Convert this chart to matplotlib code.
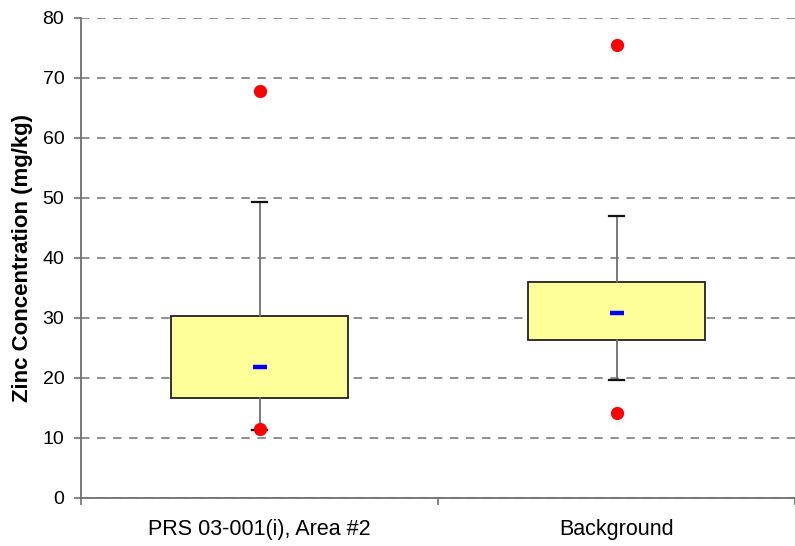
import matplotlib
matplotlib.use("Agg")
import matplotlib.pyplot as plt

plt.rcParams['font.family'] = ['Liberation Sans', 'DejaVu Sans']

categories = ["PRS 03-001(i), Area #2", "Background"]
q1 = [16.7, 26.3]
q3 = [30.3, 36.0]
centre = [21.8, 30.8]
whisker_low = [11.3, 19.7]
whisker_high = [49.3, 47.0]
outliers = [[67.8, 11.5], [75.5, 14.2]]
y_ticks = [0, 10, 20, 30, 40, 50, 60, 70, 80]

fig = plt.figure(figsize=(7.95, 5.46), dpi=100)
ax = fig.add_axes([81/795, 48/546, 1 - 81/795, 480/546])

stats = []
for i, name in enumerate(categories):
    stats.append(dict(label=name, q1=q1[i], q3=q3[i], med=centre[i], mean=centre[i],
                      whislo=whisker_low[i], whishi=whisker_high[i], fliers=outliers[i]))

positions = list(range(1, len(categories) + 1))
ax.bxp(stats, positions=positions, widths=0.494, capwidths=0.042, patch_artist=True,
       showmeans=True, showfliers=True, zorder=3,
       boxprops=dict(facecolor='#FFFF99', edgecolor='#222222', linewidth=1.3),
       whiskerprops=dict(color='#707070', linewidth=1.3),
       capprops=dict(color='#111111', linewidth=1.6),
       medianprops=dict(linewidth=0),
       meanprops=dict(marker='_', markeredgecolor='#0000FF', markersize=10, markeredgewidth=3.2),
       flierprops=dict(marker='o', markerfacecolor='#FF0000', markeredgecolor='#FF0000', markersize=8.5))

ax.set_ylim(0, 80)
ax.set_xlim(0.5, 0.5 + 714/360)
ax.set_yticks(y_ticks)
ax.set_yticklabels([str(v) for v in y_ticks], fontsize=14)
ax.yaxis.grid(True, linestyle=(0, (5.5, 5)), color='#707070', linewidth=1.1, zorder=0)
ax.set_axisbelow(True)

ax.set_xticks([0.5, 1.5, 2.5])
ax.set_xticklabels([])
ax.set_xticks(positions, minor=True)
ax.set_xticklabels(categories, minor=True, fontsize=15.5)
ax.tick_params(axis='x', which='minor', length=0, pad=15)
ax.tick_params(axis='x', which='major', length=5, color='#707070', width=1.2)
ax.tick_params(axis='y', length=5, color='#707070', width=1.2, pad=7)

for s in ['top', 'right']:
    ax.spines[s].set_visible(False)
for s in ['left', 'bottom']:
    ax.spines[s].set_color('#707070')
    ax.spines[s].set_linewidth(1.3)

ax.set_ylabel("Zinc Concentration (mg/kg)", fontsize=16, fontweight='bold', labelpad=7)

fig.savefig("out.png", dpi=100)
